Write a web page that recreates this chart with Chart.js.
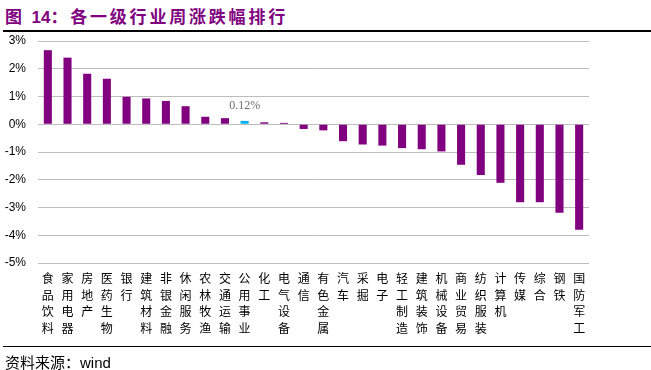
<!DOCTYPE html>
<html>
<head>
<meta charset="utf-8">
<script src="https://cdn.jsdelivr.net/npm/chart.js@4"></script>
<style>
  body { margin: 0; background: #fff; }
  #wrap { position: relative; width: 651px; height: 370px; overflow: hidden; }
  #title { position: absolute; left: 5px; top: 3px; font: bold 17px "Noto Sans CJK SC", sans-serif; letter-spacing: 2.8px; color: #800080; white-space: nowrap; }
  #title .num { font-family: "Liberation Sans", Arial, sans-serif; letter-spacing: 0; }
  .rule { position: absolute; left: 3px; right: 0; background: #000; }
  #source { position: absolute; left: 5px; top: 351px; font: 15px "Noto Sans CJK SC", sans-serif; color: #000; white-space: nowrap; }
  #source .en { font-family: "Liberation Sans", Arial, sans-serif; }
  canvas { position: absolute; left: 0; top: 0; }
</style>
</head>
<body>
<div id="wrap">
  <div id="title">图 <span class="num">14</span>：各一级行业周涨跌幅排行</div>
  <div class="rule" style="top:30px;height:2px"></div>
  <canvas id="chart" width="651" height="370"></canvas>
  <div class="rule" style="top:346px;height:1px"></div>
  <div id="source">资料来源：<span class="en">wind</span></div>
</div>
<script>
// industries, sorted by weekly change
const categories = ['食品饮料', '家用电器', '房地产', '医药生物', '银行', '建筑材料', '非银金融',
    '休闲服务', '农林牧渔', '交通运输', '公用事业', '化工', '电气设备', '通信', '有色金属',
    '汽车', '采掘', '电子', '轻工制造', '建筑装饰', '机械设备', '商业贸易', '纺织服装',
    '计算机', '传媒', '综合', '钢铁', '国防军工'];
const weeklyChange = [2.67, 2.40, 1.82, 1.64, 0.99, 0.93, 0.84, 0.65, 0.27, 0.22, 0.12, 0.07,
    0.05, -0.17, -0.22, -0.61, -0.73, -0.77, -0.86, -0.90, -0.98, -1.46, -1.83, -2.11,
    -2.81, -2.81, -3.19, -3.80];
const yTicks = [3, 2, 1, 0, -1, -2, -3, -4, -5];
const highlight = '公用事业';

const PURPLE = '#800080';
const BLUE = '#00B0F0';

// label only the highlighted bar
const barLabel = {
    id: 'barLabel',
    afterDatasetsDraw(chart) {
        const i = categories.indexOf(highlight);
        const bar = chart.getDatasetMeta(0).data[i];
        const ctx = chart.ctx;
        ctx.save();
        ctx.font = '12px "Liberation Serif", serif';
        ctx.fillStyle = '#6d6d6d';
        ctx.textAlign = 'center';
        ctx.textBaseline = 'middle';
        ctx.fillText(weeklyChange[i].toFixed(2) + '%', bar.x, bar.y - 15);
        ctx.restore();
    }
};

new Chart('chart', {
    type: 'bar',
    data: {
        labels: categories,
        datasets: [{
            data: weeklyChange,
            backgroundColor: categories.map(c => c === highlight ? BLUE : PURPLE),
            barPercentage: 0.41,
            categoryPercentage: 1
        }]
    },
    options: {
        responsive: false,
        animation: false,
        layout: { padding: { top: 41, right: 62, bottom: 0, left: 0 } },
        plugins: { legend: { display: false }, tooltip: { enabled: false } },
        scales: {
            x: {
                grid: { display: false, drawTicks: false },
                border: { display: false },
                afterFit: s => { s.height = 107; },
                ticks: {
                    autoSkip: false,
                    maxRotation: 0,
                    padding: 7,
                    color: '#000',
                    font: { family: '"Noto Sans CJK SC", sans-serif', size: 12, lineHeight: 1.39 },
                    callback: (v, i) => categories[i].split('')
                }
            },
            y: {
                min: -5,
                max: 3,
                afterFit: s => { s.width = 38; },
                afterBuildTicks: s => { s.ticks = yTicks.map(v => ({ value: v })); },
                grid: { color: '#bdbdbd', lineWidth: 1, drawTicks: false },
                border: { display: false },
                ticks: {
                    padding: 12,
                    color: '#000',
                    font: { family: '"Liberation Sans", Arial, sans-serif', size: 12 },
                    callback: v => v + '%'
                }
            }
        }
    },
    plugins: [barLabel]
});
</script>
</body>
</html>
